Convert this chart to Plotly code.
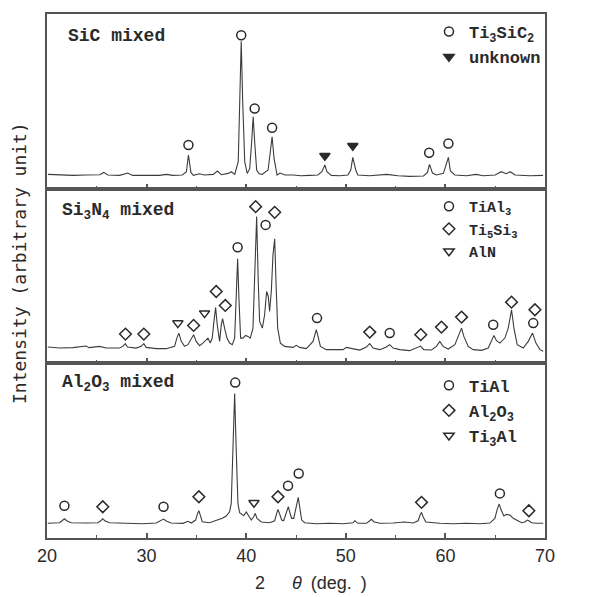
import plotly.graph_objects as go
from plotly.subplots import make_subplots

# ---------------- data (2theta in degrees, intensity in arbitrary units) ----------------
sic_x = [20.1, 21.25, 22.6, 23.9, 25.3, 25.7, 26.1, 27.3, 28.1, 28.6, 30.0, 31.3, 32.0, 32.6, 33.6,
         34.0, 34.2, 34.45, 34.7, 35.3, 35.8, 36.7, 37.1, 37.5, 38.2, 38.5, 38.85, 39.2, 39.35, 39.5,
         39.65, 39.85, 40.1, 40.35, 40.55, 40.7, 40.85, 41.05, 41.3, 41.6, 42.2, 42.4, 42.6, 42.8,
         43.0, 43.1, 43.4, 43.9, 44.7, 45.5, 46.4, 47.2, 47.6, 47.9, 48.1, 48.55, 49.4, 50.2, 50.5,
         50.7, 51.0, 51.2, 52.4, 54.1, 55.25, 56.4, 57.8, 58.2, 58.4, 58.7, 59.1, 59.8, 60.3, 60.5,
         60.95, 62.1, 63.1, 63.8, 65.0, 65.6, 66.1, 66.5, 67.0, 68.5, 69.8]
sic_y = [14.3, 13.7, 13.3, 13.7, 14.0, 16.3, 13.7, 13.3, 15.7, 13.3, 13.0, 13.3, 14.3, 13.3, 13.7,
         17.0, 33.7, 16.3, 13.3, 15.0, 13.7, 14.3, 17.7, 14.0, 15.3, 17.0, 14.3, 27.0, 87.0, 147.7,
         87.0, 27.0, 15.3, 20.0, 47.0, 72.0, 47.0, 18.7, 15.0, 14.3, 18.7, 35.0, 52.0, 30.0,
         17.0, 13.7, 15.7, 13.7, 13.7, 13.0, 13.3, 13.7, 17.0, 23.7, 17.0, 13.3, 13.0, 13.7, 18.7,
         31.3, 18.7, 13.7, 13.0, 14.3, 13.0, 12.3, 12.7, 16.3, 24.3, 15.7, 13.7, 15.3, 31.3, 17.7,
         13.7, 13.0, 14.3, 13.0, 13.7, 17.0, 15.0, 17.0, 13.7, 13.0, 13.3]

sic_ti3sic2_x = [34.2, 39.5, 40.85, 42.6, 58.37, 60.3]
sic_ti3sic2_y = [43.7, 153.7, 80.3, 61.0, 36.0, 45.3]
sic_unknown_x = [47.9, 50.7]
sic_unknown_y = [33.0, 43.0]

si3n4_x = [20.08, 21.25, 22.6, 23.9, 24.26, 25.27, 25.94, 27.28, 27.61, 27.85, 28.08, 28.95, 29.46,
           29.72, 29.96, 30.96, 31.97, 32.81, 33.04, 33.24, 33.48, 33.81, 34.15, 34.48, 34.72, 34.98,
           35.32, 35.65, 35.99, 36.16, 36.39, 36.59, 36.76, 36.93, 37.09, 37.33, 37.5, 37.63, 37.83,
           38.07, 38.33, 38.6, 38.84, 39.0, 39.14, 39.27, 39.44, 39.67, 39.94, 40.18, 40.41, 40.68,
           40.85, 41.05, 41.21, 41.35, 41.62, 41.85, 42.05, 42.22, 42.35, 42.52, 42.69, 42.86, 42.99,
           43.16, 43.43, 43.86, 44.7, 45.03, 45.37, 46.04, 46.71, 46.91, 47.04, 47.21, 47.45, 48.05,
           48.89, 49.72, 50.06, 50.73, 51.4, 52.07, 52.4, 52.74, 53.41, 54.08, 54.41, 54.75, 55.42,
           56.42, 57.09, 57.5, 57.83, 58.6, 59.1, 59.44, 59.77, 60.28, 60.95, 61.38, 61.62, 61.85,
           62.29, 62.79, 63.63, 64.3, 64.63, 64.87, 65.13, 65.47, 65.97, 66.31, 66.64, 66.88, 67.21,
           67.81, 68.32, 68.75, 69.09, 69.49, 69.82]
si3n4_y = [16.3, 15.3, 15.7, 17.3, 15.7, 17.0, 15.3, 15.3, 17.0, 19.7, 16.3, 15.3, 17.0,
           19.7, 16.0, 14.7, 14.7, 17.0, 25.3, 30.3, 22.0, 17.0, 18.7, 25.3, 28.7, 22.0,
           17.7, 20.3, 23.7, 25.3, 20.3, 25.3, 42.0, 56.0, 38.7, 22.0, 38.7, 44.7, 35.3,
           25.3, 20.3, 18.7, 25.3, 65.3, 104.7, 65.3, 25.3, 25.3, 28.0, 27.0, 25.3, 35.3,
           82.0, 147.0, 82.0, 42.0, 35.3, 48.7, 72.0, 67.0, 52.0, 72.0, 108.7, 124.7, 82.0,
           35.3, 20.3, 17.0, 16.0, 18.0, 16.0, 14.7, 22.0, 28.7, 33.7, 27.0, 17.0, 13.7,
           13.7, 13.7, 16.0, 14.3, 13.3, 16.3, 19.7, 15.3, 13.7, 16.3, 18.7, 15.3, 13.7,
           12.7, 15.3, 17.3, 13.7, 13.3, 17.0, 22.0, 17.0, 14.3, 18.7, 28.7, 35.3, 27.0,
           17.0, 13.7, 13.0, 15.3, 22.0, 28.0, 22.7, 20.3, 25.3, 35.3, 53.7, 35.3, 18.7,
           15.3, 22.0, 30.3, 20.3, 13.7, 12.0]

si3n4_tial3_x = [39.14, 41.95, 47.11, 54.41, 64.8, 68.82]
si3n4_tial3_y = [116.3, 138.7, 45.3, 30.3, 38.7, 40.3]
si3n4_ti5si3_x = [27.88, 29.72, 34.72, 36.99, 37.9, 40.95, 42.86, 52.4, 57.53, 59.6, 61.62, 66.64, 68.99]
si3n4_ti5si3_y = [29.3, 29.3, 38.0, 72.0, 58.0, 157.0, 151.3, 31.3, 28.7, 36.3, 46.3, 61.3, 53.7]
si3n4_aln_x = [33.14, 35.82]
si3n4_aln_y = [40.3, 50.3]

al2o3_x = [20.08, 21.25, 21.52, 21.75, 21.98, 22.42, 23.93, 25.1, 25.4, 25.6, 25.8, 26.27, 27.95,
           29.62, 30.96, 31.37, 31.7, 31.97, 32.47, 33.64, 34.15, 34.48, 34.92, 35.12, 35.25, 35.39,
           35.59, 36.32, 36.99, 37.6, 38.0, 38.33, 38.5, 38.67, 38.84, 39.0, 39.17, 39.34, 39.57,
           39.74, 40.01, 40.24, 40.51, 40.75, 40.91, 41.08, 41.52, 42.35, 42.86, 43.06, 43.19, 43.36,
           43.56, 43.76, 44.03, 44.23, 44.36, 44.56, 44.77, 45.03, 45.23, 45.37, 45.57, 45.87, 47.04,
           48.38, 49.72, 50.73, 50.9, 51.23, 52.07, 52.4, 52.57, 52.81, 53.41, 54.75, 55.92, 56.76,
           57.26, 57.46, 57.6, 57.76, 58.03, 59.44, 60.78, 62.12, 63.46, 64.46, 64.97, 65.2, 65.4,
           65.6, 65.87, 66.14, 66.47, 66.81, 67.14, 67.65, 67.98, 68.22, 68.38, 68.65, 69.15, 69.82]
al2o3_y = [14.7, 15.3, 17.3, 19.3, 17.3, 15.3, 15.0, 15.3, 17.3, 19.3, 17.3, 15.3, 14.7,
           14.3, 15.0, 17.3, 19.0, 17.0, 15.0, 14.7, 16.7, 15.0, 18.0, 24.7, 27.3, 23.0,
           16.3, 15.3, 17.3, 19.7, 22.0, 26.3, 34.7, 88.0, 144.7, 88.0, 34.7, 25.3, 24.0,
           22.3, 26.0, 22.0, 18.0, 21.3, 24.7, 19.7, 16.0, 15.3, 17.3, 24.7, 28.7, 24.0,
           18.0, 17.3, 24.7, 31.3, 26.3, 19.7, 19.7, 31.3, 40.7, 31.3, 18.0, 15.3, 14.3,
           14.7, 14.3, 15.3, 17.3, 14.7, 14.7, 17.3, 18.7, 16.3, 14.7, 15.0, 16.0, 15.0,
           17.3, 23.0, 25.7, 21.3, 16.0, 14.7, 14.3, 14.7, 14.3, 15.0, 19.7, 28.7, 34.0,
           28.0, 22.0, 23.7, 23.0, 19.7, 18.0, 15.3, 16.0, 18.0, 17.3, 15.3, 14.7, 14.7]

al2o3_tial_x = [21.75, 31.7, 38.9, 44.2, 45.27, 65.47]
al2o3_tial_y = [32.3, 31.3, 155.7, 52.3, 64.7, 44.7]
al2o3_al2o3_x = [25.6, 35.25, 43.19, 57.6, 68.38]
al2o3_al2o3_y = [31.3, 41.3, 41.3, 35.7, 27.3]
al2o3_ti3al_x = [40.78]
al2o3_ti3al_y = [35.3]

x_ticks = [20, 30, 40, 50, 60, 70]
panel_titles = ["SiC mixed", "Si<sub>3</sub>N<sub>4</sub> mixed", "Al<sub>2</sub>O<sub>3</sub> mixed"]

# ---------------- figure ----------------
LINE = "#3c3c3c"
FRAME = "#555555"
TXT = "#2a2a2a"

fig = make_subplots(rows=3, cols=1, shared_xaxes=True, vertical_spacing=0)

def spectrum(x, y, row):
    fig.add_trace(go.Scatter(x=x, y=y, mode="lines", line=dict(color=LINE, width=1.1),
                             showlegend=False, hoverinfo="skip"), row=row, col=1)

def marks(x, y, name, symbol, row, legend):
    fig.add_trace(go.Scatter(x=x, y=y, mode="markers", name=name, legend=legend,
                             marker=dict(symbol=symbol, size=9, color=TXT,
                                         line=dict(color=TXT, width=1.5))),
                  row=row, col=1)

spectrum(sic_x, sic_y, 1)
marks(sic_ti3sic2_x, sic_ti3sic2_y, "Ti<sub>3</sub>SiC<sub>2</sub>", "circle-open", 1, "legend")
marks(sic_unknown_x, sic_unknown_y, "unknown", "triangle-down", 1, "legend")

spectrum(si3n4_x, si3n4_y, 2)
marks(si3n4_tial3_x, si3n4_tial3_y, "TiAl<sub>3</sub>", "circle-open", 2, "legend2")
marks(si3n4_ti5si3_x, si3n4_ti5si3_y, "Ti<sub>5</sub>Si<sub>3</sub>", "diamond-open", 2, "legend2")
marks(si3n4_aln_x, si3n4_aln_y, "AlN", "triangle-down-open", 2, "legend2")

spectrum(al2o3_x, al2o3_y, 3)
marks(al2o3_tial_x, al2o3_tial_y, "TiAl", "circle-open", 3, "legend3")
marks(al2o3_al2o3_x, al2o3_al2o3_y, "Al<sub>2</sub>O<sub>3</sub>", "diamond-open", 3, "legend3")
marks(al2o3_ti3al_x, al2o3_ti3al_y, "Ti<sub>3</sub>Al", "triangle-down-open", 3, "legend3")

for r in (1, 2, 3):
    fig.update_xaxes(range=[20, 70], showline=True, linecolor=FRAME, linewidth=2, mirror=True,
                     ticks="inside", ticklen=5, tickwidth=1.5, tickcolor=FRAME,
                     tickvals=x_ticks, showgrid=False, zeroline=False,
                     minor=dict(dtick=5, tick0=20, ticks="inside", ticklen=3, tickwidth=1.2,
                                tickcolor=FRAME, showgrid=False),
                     showticklabels=(r == 3),
                     tickfont=dict(family="Liberation Sans", size=18, color=TXT),
                     row=r, col=1)
    fig.update_yaxes(range=[0, 175], showline=True, linecolor=FRAME, linewidth=2, mirror=True,
                     showticklabels=False, ticks="", showgrid=False, zeroline=False,
                     row=r, col=1)

def legend_style(y, size):
    return dict(bgcolor="rgba(0,0,0,0)", borderwidth=0, xref="paper", yref="paper",
                x=0.767, y=y, xanchor="left", yanchor="top", itemwidth=30, tracegroupgap=0,
                font=dict(family="Liberation Mono", size=size, color=TXT, weight="bold"))

# the page body adds an 8px offset, so the figure is 8px smaller than the window
fig.update_layout(
    width=588, height=589,
    margin=dict(l=39, r=51, t=4, b=59),
    paper_bgcolor="white", plot_bgcolor="white",
    legend=legend_style(1.0, 17),
    legend2=legend_style(0.664, 15),
    legend3=legend_style(0.325, 17),
)

title_font = dict(family="Liberation Mono", size=18, color=TXT, weight="bold")
for txt, xp, yp in zip(panel_titles, [0.038, 0.026, 0.026], [0.958, 0.6236, 0.2947]):
    fig.add_annotation(text=txt, xref="paper", yref="paper", x=xp, y=yp, xanchor="left",
                       yanchor="middle", showarrow=False, font=title_font)

fig.add_annotation(text="2\u2003\u2002<i>θ</i>\u2002(deg.\u2002)", xref="paper", yref="paper",
                   x=0.53, y=-0.0856, xanchor="center", yanchor="middle", showarrow=False,
                   font=dict(family="Liberation Sans", size=18, color=TXT))
fig.add_annotation(text="Intensity (arbitrary unit)", xref="paper", yref="paper",
                   x=-0.054, y=0.525, xanchor="center", yanchor="middle", textangle=-90,
                   showarrow=False, font=dict(family="DejaVu Sans Mono", size=18, color=TXT))

fig.write_html("out.html")
